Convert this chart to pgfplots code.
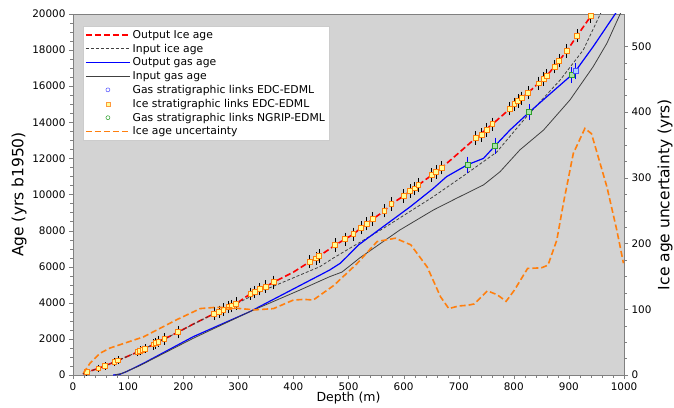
\documentclass[border=0pt]{standalone}
\usepackage{fontspec}
\setmainfont{DejaVu Sans}
\usepackage{pgfplots}
\pgfplotsset{compat=1.18}
\usepackage{pgfplotstable}

\definecolor{bggray}{RGB}{211,211,211}
\definecolor{mplorange}{RGB}{255,127,14}
\definecolor{mplgreen}{RGB}{44,160,44}
\definecolor{icefill}{RGB}{255,255,150}
\definecolor{gasfill}{RGB}{170,225,170}
\definecolor{bluefill}{RGB}{170,210,255}
\definecolor{inputgray}{RGB}{64,64,64}

% ice stratigraphic links EDC-EDML: depth, age, error
\pgfplotstableread{
d a e
25 150 60
46 370 60
58 500 60
75 720 80
82 810 80
117 1270 100
122 1340 100
126 1390 100
131 1450 100
146 1700 150
150 1760 150
155 1850 150
166 2000 170
191 2380 200
256 3400 200
265 3500 200
273 3620 200
283 3760 200
288 3820 200
296 3950 200
322 4500 200
330 4600 200
339 4750 200
350 4900 200
364 5140 220
430 6280 220
441 6460 220
447 6590 220
476 7200 220
494 7530 220
509 7800 220
523 8160 220
533 8370 220
544 8640 220
565 9090 220
578 9470 220
600 9920 220
612 10190 220
620 10340 220
627 10530 220
651 11080 220
659 11250 220
669 11480 220
731 13130 220
742 13300 220
751 13570 220
761 13890 220
793 14750 220
801 15000 220
808 15180 220
814 15330 220
826 15640 220
845 16160 220
854 16400 220
860 16580 220
874 17080 220
882 17400 220
896 17950 220
915 18800 220
940 19890 220
}\icelinks

\pgfplotstableread{
d a e
716 11650 300
766 12700 300
828 14560 300
905 16620 300
}\ngriplinks

\pgfplotstableread{
d a e
912 16840 300
}\edclinks

\pgfplotsset{
  every axis/.append style={font=\fontsize{10.4}{12.5}\selectfont},
  /pgf/number format/assume math mode=true,
  /pgf/number format/1000 sep={},
}

\begin{document}
\begin{tikzpicture}
\begin{axis}[
  width=551pt, height=361pt, scale only axis,
  xmin=0, xmax=1000, ymin=0, ymax=20000,
  xtick={0,100,...,1000}, ytick={0,2000,...,20000},
  minor x tick num=4, minor y tick num=3,
  xtick pos=bottom, ytick pos=left,
  tick align=outside,
  major tick length=4pt, minor tick length=2.5pt,
  scaled y ticks=false,
  axis background/.style={fill=bggray},
  axis line style={gray},
  tick style={gray},
  xlabel={Depth (m)}, ylabel={Age (yrs b1950)},
  every axis x label/.style={at={(axis description cs:0.5,0)}, yshift=-23pt,
    anchor=center, font=\fontsize{12.5}{14}\selectfont},
  every axis y label/.style={at={(axis description cs:0,0.5)}, xshift=-54pt,
    rotate=90, anchor=center, font=\fontsize{15.5}{18}\selectfont},
  clip=true,
]
% output ice age
\addplot[red, line width=1.6pt, dash pattern=on 6pt off 3pt] coordinates {
(18,60) (25,150) (46,370) (58,500) (75,720) (82,810) (117,1270) (131,1450)
(146,1700) (155,1850) (166,2000) (191,2380) (220,2850) (256,3400) (280,3750)
(296,3950) (322,4500) (350,4900) (364,5140) (400,5700) (430,6280) (447,6590)
(476,7200) (494,7530) (509,7800) (523,8160) (533,8370) (544,8640) (565,9090)
(578,9470) (600,9920) (627,10530) (669,11480) (700,12300) (731,13130)
(761,13890) (793,14750) (814,15330) (826,15640) (860,16580) (882,17400)
(896,17950) (915,18800) (940,19890) (950,20400)};
% input ice age
\addplot[inputgray, line width=0.8pt, dash pattern=on 3pt off 2pt] coordinates {
(18,60) (25,150) (58,500) (82,810) (117,1270) (166,2000) (191,2380) (256,3400)
(290,3850) (339,4600) (412,5540) (448,6000) (472,6470) (563,8120) (654,9880)
(715,11170) (769,12350) (823,14310) (884,16340) (926,18000) (957,20000) (965,20500)};
% output gas age
\addplot[blue, line width=1.2pt] coordinates {
(73,0) (85,40) (97,185) (128,650) (218,2120) (321,3510) (424,5150) (448,5530)
(466,5820) (485,6190) (497,6550) (518,7200) (563,8220) (612,9320) (654,10340)
(678,10990) (716,11650) (745,12000) (766,12700) (793,13570) (828,14560)
(860,15420) (905,16620) (912,16840) (944,18190) (984,20000) (990,20300)};
% input gas age
\addplot[inputgray, line width=0.8pt] coordinates {
(76,0) (90,100) (120,500) (218,2030) (321,3510) (412,4710) (466,5450)
(488,5700) (521,6500) (593,8030) (654,9140) (696,9790) (745,10530)
(775,11260) (811,12470) (854,13570) (902,15240) (944,17080) (969,18380)
(993,20000) (1000,20400)};
% stratigraphic links
\addplot[only marks, mark=square*, mark size=2.4pt,
  mark options={draw=mplorange, fill=icefill, line width=0.8pt},
  error bars/.cd, y dir=both, y explicit,
  error bar style={black, line width=0.9pt},
  error mark options={black, mark size=2.6pt, line width=0.9pt}]
  table[x=d, y=a, y error=e] {\icelinks};
\addplot[only marks, mark=square*, mark size=2.4pt,
  mark options={draw=mplgreen, fill=gasfill, line width=0.8pt},
  error bars/.cd, y dir=both, y explicit,
  error bar style={blue, line width=0.9pt},
  error mark options={blue, mark size=2.6pt, line width=0.9pt}]
  table[x=d, y=a, y error=e] {\ngriplinks};
\addplot[only marks, mark=square*, mark size=2.4pt,
  mark options={draw=blue!70, fill=bluefill, line width=0.8pt},
  error bars/.cd, y dir=both, y explicit,
  error bar style={blue, line width=0.9pt},
  error mark options={blue, mark size=2.6pt, line width=0.9pt}]
  table[x=d, y=a, y error=e] {\edclinks};
\end{axis}

\begin{axis}[
  width=551pt, height=361pt, scale only axis,
  xmin=0, xmax=1000, ymin=0, ymax=549,
  axis x line=none, axis y line*=right,
  ytick={0,100,...,500}, minor y tick num=3,
  tick align=outside,
  major tick length=4pt, minor tick length=2.5pt,
  axis line style={gray},
  tick style={gray},
  ylabel={Ice age uncertainty (yrs)},
  every axis y label/.style={at={(axis description cs:1,0.5)}, xshift=41pt,
    rotate=90, anchor=center, font=\fontsize{15.5}{18}\selectfont},
  legend image code/.code={\draw[mark repeat=2, mark phase=2, #1]
    plot coordinates {(0pt,0pt) (22pt,0pt) (44pt,0pt)};},
  legend cell align=left,
  legend style={at={(0.018,0.967)}, anchor=north west, draw=gray!40,
    fill=white, inner sep=2pt, row sep=0.2pt,
    font=\fontsize{10.8}{13}\selectfont},
]
\addlegendimage{red, line width=1.6pt, dash pattern=on 6pt off 3pt}
\addlegendentry{Output Ice age}
\addlegendimage{inputgray, line width=0.8pt, dash pattern=on 3pt off 2pt}
\addlegendentry{Input ice age}
\addlegendimage{blue, line width=1.2pt}
\addlegendentry{Output gas age}
\addlegendimage{inputgray, line width=0.8pt}
\addlegendentry{Input gas age}
\addlegendimage{only marks, mark=o, mark size=2pt, blue!70, mark options={line width=0.5pt}}
\addlegendentry{Gas stratigraphic links EDC-EDML}
\addlegendimage{only marks, mark=square*, mark size=2pt, mark options={draw=mplorange!80, fill=icefill, line width=0.5pt}}
\addlegendentry{Ice stratigraphic links EDC-EDML}
\addlegendimage{only marks, mark=o, mark size=2pt, mplgreen, mark options={line width=0.5pt}}
\addlegendentry{Gas stratigraphic links NGRIP-EDML}
% ice age uncertainty
\addplot[mplorange, line width=1.6pt, dash pattern=on 6pt off 3pt,
  legend image code/.code={\draw[mplorange, line width=1.6pt, dash pattern=on 6pt off 3pt] (0pt,0pt)--(44pt,0pt);}]
  coordinates {
(19,3) (31,18) (49,33) (67,41) (128,58) (188,84) (231,101) (260,103)
(291,102) (330,99) (364,101) (400,114) (420,115) (436,114) (473,136)
(515,169) (552,203) (585,208) (613,198) (643,164) (667,119) (682,101)
(700,105) (716,106) (728,108) (752,128) (770,122) (786,112) (801,129)
(825,162) (850,163) (862,167) (878,205) (890,261) (908,337) (929,375)
(941,367) (969,286) (987,220) (999,170)};
\addlegendentry{Ice age uncertainty}
\end{axis}
\pgfresetboundingbox
\path[use as bounding box] ([xshift=-73pt,yshift=-32pt]current axis.south west) rectangle ([xshift=50pt,yshift=14pt]current axis.north east);
\end{tikzpicture}
\end{document}
